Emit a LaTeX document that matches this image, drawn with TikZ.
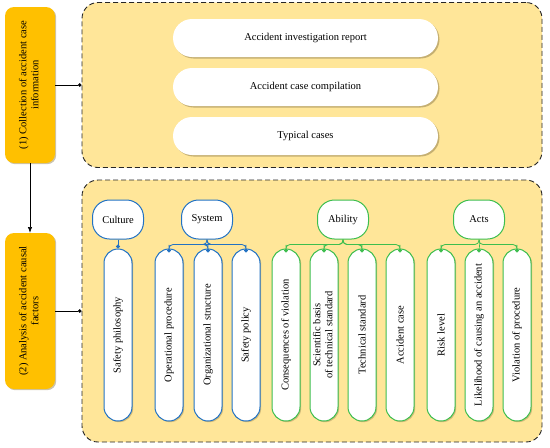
\documentclass[tikz,border=0pt]{standalone}
\usepackage{fontspec}
\setmainfont{Liberation Serif}
\usepackage{graphicx}
\usepackage{tikz}
\usetikzlibrary{arrows.meta,positioning,shadows}
\definecolor{CaseOrange}{HTML}{FFC000}
\definecolor{CasePale}{HTML}{FFE699}
\definecolor{CaseBlue}{HTML}{2272C3}
\definecolor{CaseGreen}{HTML}{3DBE4E}
\definecolor{CaseShadow}{HTML}{8C7A4A}
\tikzset{
  stepbox/.style={rounded corners=9pt, fill=CaseOrange, minimum width=50pt, minimum height=156pt,
                  inner sep=0pt, drop shadow={shadow xshift=1.2pt, shadow yshift=-1.2pt, fill=CaseShadow, opacity=.45}},
  panel/.style={rounded corners=16pt, draw=black!85, fill=CasePale, line width=0.9pt,
                dash pattern=on 5pt off 3pt, minimum width=460pt, inner sep=0pt},
  itembox/.style={rounded corners=19pt, fill=white, minimum width=265pt, minimum height=38pt,
                  drop shadow={shadow xshift=1.5pt, shadow yshift=-1.5pt, fill=CaseShadow, opacity=.5}},
  head/.style={rounded corners=17pt, fill=white, line width=1pt, minimum width=51pt, minimum height=39pt, inner sep=1pt},
  leaf/.style={rounded corners=14pt, fill=white, line width=1pt, minimum width=28pt, minimum height=172pt,
               inner sep=0pt, drop shadow={shadow xshift=1.2pt, shadow yshift=-1.2pt, fill=CaseShadow, opacity=.4}},
  branch/.style={line width=0.8pt, rounded corners=4pt, -{Circle[length=4pt]}},
  feed/.style={line width=0.6pt, -{Circle[length=3.5pt]}},
}

\begin{document}
\begin{tikzpicture}[x=1pt,y=-1pt,font=\fontsize{10.5}{12}\selectfont]
    \useasboundingbox (0,0) rectangle (550,448);
    % panels
    \node[panel,minimum height=165pt] (info) at (312,85) {};
    \node[panel,minimum height=262pt] (cause) at (312,311) {};
    % steps
    \node[stepbox] (collect) at (30,85) {\rotatebox{90}{\begin{tabular}{c}(1) Collection of accident case\\information\end{tabular}}};
    \node[stepbox] (analyse) at (30,311) {\rotatebox{90}{\begin{tabular}{c}(2) Analysis of accident causal\\factors\end{tabular}}};
    \draw[line width=0.6pt,-Latex] (collect) -- (analyse);
    \draw[feed] (collect.east) -- (info.west);
    \draw[feed] (analyse.east) -- (cause.west);
    % sources
    \node[itembox] (report) at (305.5,38) {Accident investigation report};
    \node[itembox] (compile) at (305.5,87) {Accident case compilation};
    \node[itembox] (typical) at (305.5,136) {Typical cases};
    % categories
    \node[head,draw=CaseBlue] (culture) at (118,219.5) {Culture};
    \node[head,draw=CaseBlue] (system) at (207,219.5) {System};
    \node[head,draw=CaseGreen] (ability) at (343,219.5) {Ability};
    \node[head,draw=CaseGreen] (acts) at (479,219.5) {Acts};
    % factors
    \node[leaf,draw=CaseBlue] (philosophy) at (118,335) {\rotatebox{90}{Safety philosophy}};
    \node[leaf,draw=CaseBlue] (procedure) at (169,335) {\rotatebox{90}{Operational procedure}};
    \node[leaf,draw=CaseBlue] (structure) at (208,335) {\rotatebox{90}{Organizational structure}};
    \node[leaf,draw=CaseBlue] (policy) at (246,335) {\rotatebox{90}{Safety policy}};
    \node[leaf,draw=CaseGreen] (consequence) at (286,335) {\rotatebox{90}{Consequences of violation}};
    \node[leaf,draw=CaseGreen] (basis) at (324,335) {\rotatebox{90}{\begin{tabular}{c}Scientific basis\\of technical standard\end{tabular}}};
    \node[leaf,draw=CaseGreen] (standard) at (362,335) {\rotatebox{90}{Technical standard}};
    \node[leaf,draw=CaseGreen] (accase) at (400,335) {\rotatebox{90}{Accident case}};
    \node[leaf,draw=CaseGreen] (risk) at (441,335) {\rotatebox{90}{Risk level}};
    \node[leaf,draw=CaseGreen] (likelihood) at (479,335) {\rotatebox{90}{Likelihood of causing an accident}};
    \node[leaf,draw=CaseGreen] (violation) at (517,335) {\rotatebox{90}{Violation of procedure}};
    % branches
    \draw[branch,draw=CaseBlue] (culture.south) -- (philosophy.north);
    \foreach \f in {procedure,structure,policy}
      \draw[branch,draw=CaseBlue] (system.south) -- ++(0,5) -| (\f.north);
    \foreach \f in {consequence,basis,standard,accase}
      \draw[branch,draw=CaseGreen] (ability.south) -- ++(0,5) -| (\f.north);
    \foreach \f in {risk,likelihood,violation}
      \draw[branch,draw=CaseGreen] (acts.south) -- ++(0,5) -| (\f.north);
  \end{tikzpicture}
\end{document}
